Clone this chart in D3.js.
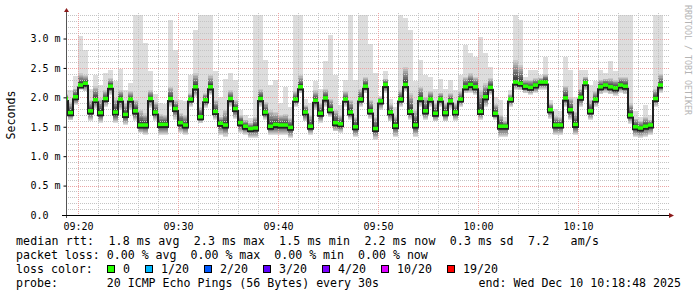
<!DOCTYPE html>
<html>
<head>
<meta charset="utf-8">
<script src="https://cdn.jsdelivr.net/npm/d3@7/dist/d3.min.js"></script>
<style>
  body { margin: 0; background: #fff; }
  svg text { font-family: "DejaVu Sans Mono", monospace; white-space: pre; fill: #000; }
</style>
</head>
<body>
<div id="chart"></div>
<script>
// one value per 30 s step, first step starts 09:18:30 (values in ms)
const stepStart = Date.UTC(2025, 11, 10, 9, 18, 30);
const stepMs = 30000;

const medianRtt = [
  1.98, 1.74, 2.01, 2.21, 2.24, 1.77, 1.96, 1.74, 1.98, 2.19,
  1.75, 1.97, 1.71, 1.97, 1.77, 1.53, 1.53, 1.98, 1.75, 1.54,
  1.54, 1.98, 1.81, 1.57, 1.53, 1.97, 2.18, 1.67, 1.96, 2.18,
  1.76, 1.56, 1.53, 1.98, 1.81, 1.57, 1.51, 1.47, 1.48, 1.98,
  1.75, 1.51, 1.54, 1.53, 1.53, 1.49, 1.97, 2.18, 1.75, 1.51,
  1.95, 1.73, 1.99, 1.79, 1.57, 1.55, 1.97, 1.75, 1.50, 1.97,
  2.19, 1.77, 1.47, 1.94, 2.22, 1.75, 1.52, 1.97, 2.22, 1.76,
  1.53, 1.98, 1.77, 1.97, 1.73, 1.97, 1.74, 1.94, 1.75, 1.97,
  2.18, 2.22, 2.18, 1.76, 2.01, 2.17, 1.73, 1.51, 1.51, 1.97,
  2.26, 2.24, 2.19, 2.17, 2.21, 2.26, 2.26, 1.79, 1.53, 1.53,
  1.99, 1.79, 1.54, 2.00, 2.25, 1.77, 1.97, 2.18, 2.21, 2.18,
  2.16, 2.21, 2.19, 1.70, 1.50, 1.48, 1.51, 1.53, 1.98, 2.21
];

// slowest ping of each step (above 3.4 is cut off by the graph)
const pingMax = [
  2.12, 2.12, 2.36, 3.04, 2.81, 2.14, 2.38, 2.21, 2.41, 2.47,
  2.28, 2.48, 2.13, 2.24, 3.6, 3.6, 2.92, 2.45, 2.05, 1.90,
  1.88, 3.31, 2.81, 1.96, 1.93, 2.38, 3.15, 3.6, 3.6, 3.6,
  2.44, 2.01, 2.32, 2.41, 2.30, 1.79, 1.70, 1.65, 3.6, 3.6,
  2.64, 2.21, 2.30, 1.90, 2.18, 1.84, 3.6, 3.6, 1.98, 1.90,
  2.27, 2.15, 2.61, 3.06, 2.38, 1.87, 2.30, 3.6, 2.30, 3.6,
  3.6, 2.90, 2.41, 2.03, 2.44, 1.98, 1.84, 3.6, 3.35, 3.15,
  2.27, 2.64, 2.38, 2.35, 2.15, 2.32, 2.15, 2.30, 2.13, 2.38,
  2.89, 2.75, 2.69, 3.03, 2.75, 2.52, 2.01, 1.96, 1.67, 2.13,
  3.6, 3.31, 2.35, 2.47, 2.47, 2.38, 2.69, 1.96, 1.81, 1.76,
  2.69, 2.47, 2.01, 2.47, 2.47, 2.21, 2.27, 2.47, 2.41, 2.61,
  2.44, 3.6, 3.6, 3.6, 1.76, 1.67, 1.87, 1.70, 3.6, 3.6
];

// second slowest ping (top of the darker smoke)
const pingUpper = [
  2.05, 1.92, 2.15, 2.41, 2.38, 1.96, 2.19, 1.99, 2.13, 2.33,
  1.99, 2.12, 1.90, 2.10, 1.96, 1.79, 1.73, 2.12, 1.92, 1.72,
  1.70, 2.18, 1.96, 1.73, 1.70, 2.07, 2.41, 1.84, 2.07, 2.38,
  1.96, 1.67, 1.79, 2.13, 1.96, 1.70, 1.62, 1.57, 1.67, 2.15,
  1.92, 1.79, 1.75, 1.70, 1.72, 1.65, 2.10, 2.38, 1.87, 1.70,
  2.12, 1.90, 2.15, 1.98, 1.79, 1.70, 2.10, 1.96, 1.67, 2.15,
  2.35, 1.96, 1.67, 2.00, 2.32, 1.88, 1.68, 2.12, 2.52, 2.07,
  1.79, 2.18, 2.01, 2.10, 1.90, 2.08, 1.90, 2.07, 1.90, 2.10,
  2.35, 2.41, 2.35, 2.13, 2.24, 2.33, 1.88, 1.70, 1.60, 2.05,
  2.64, 2.55, 2.30, 2.30, 2.33, 2.33, 2.40, 1.90, 1.68, 1.66,
  2.20, 2.00, 1.75, 2.15, 2.35, 1.95, 2.10, 2.30, 2.32, 2.33,
  2.30, 2.35, 2.35, 1.90, 1.64, 1.60, 1.66, 1.62, 2.15, 2.40
];

// fastest ping of each step
const pingMin = [
  1.85, 1.61, 1.87, 2.13, 2.10, 1.59, 1.81, 1.56, 1.84, 2.04,
  1.56, 1.79, 1.53, 1.79, 1.59, 1.39, 1.36, 1.82, 1.60, 1.36,
  1.36, 1.84, 1.62, 1.39, 1.36, 1.84, 2.01, 1.56, 1.82, 2.04,
  1.62, 1.36, 1.33, 1.84, 1.64, 1.39, 1.36, 1.31, 1.31, 1.84,
  1.62, 1.36, 1.36, 1.36, 1.36, 1.31, 1.84, 2.07, 1.59, 1.36,
  1.79, 1.56, 1.84, 1.67, 1.42, 1.39, 1.84, 1.62, 1.33, 1.84,
  2.07, 1.64, 1.28, 1.79, 2.07, 1.59, 1.33, 1.84, 2.10, 1.62,
  1.33, 1.84, 1.62, 1.84, 1.59, 1.84, 1.59, 1.81, 1.60, 1.84,
  2.07, 2.07, 2.04, 1.62, 1.84, 2.04, 1.62, 1.33, 1.33, 1.84,
  2.13, 2.12, 2.07, 2.04, 2.07, 2.13, 2.13, 1.64, 1.36, 1.36,
  1.84, 1.62, 1.36, 1.84, 2.12, 1.62, 1.84, 2.05, 2.08, 2.05,
  2.03, 2.08, 2.05, 1.55, 1.33, 1.31, 1.33, 1.36, 1.84, 2.08
];

const yTicks = [0, 0.5, 1.0, 1.5, 2.0, 2.5, 3.0];
const lossLabels = ["0", "1/20", "2/20", "3/20", "4/20", "10/20", "19/20"];
const lossColors = ["#26ff00", "#00b8ff", "#0059ff", "#5e00ff", "#7e00ff", "#dd00ff", "#ff0000"];
const rttStats = ["1.8 ms avg", "2.3 ms max", "1.5 ms min", "2.2 ms now", "0.3 ms sd", "7.2   am/s"];
const lossStats = ["0.00 % avg", "0.00 % max", "0.00 % min", "0.00 % now"];
const probeText = "20 ICMP Echo Pings (56 Bytes) every 30s";
const endText = "end: Wed Dec 10 10:18:48 2025";

const width = 697;
const height = 297;
const plot = { left: 66, right: 666, top: 15, bottom: 215 };

const svg = d3.select("#chart")
  .append("svg")
  .attr("width", width)
  .attr("height", height);

const x = d3.scaleUtc()
  .domain([new Date(Date.UTC(2025, 11, 10, 9, 18, 48)), new Date(Date.UTC(2025, 11, 10, 10, 18, 48))])
  .range([plot.left, plot.right]);

const y = d3.scaleLinear()
  .domain([0, 3.4])
  .range([plot.bottom, plot.top]);

svg.append("clipPath").attr("id", "plotclip")
  .append("rect")
  .attr("x", plot.left).attr("y", plot.top)
  .attr("width", plot.right - plot.left).attr("height", plot.bottom - plot.top);

const steps = medianRtt.map((m, i) => ({
  t0: new Date(stepStart + i * stepMs),
  t1: new Date(stepStart + (i + 1) * stepMs),
  med: m, max: pingMax[i], up: pingUpper[i], min: pingMin[i]
}));

// smoke: 10 nested bands, light outside, dark near the median
const bands = [];
steps.forEach(d => {
  for (let k = 1; k <= 10; k++) {
    const g = Math.floor(190 / 10 * (10 - k)) + 50;
    const hi = k === 1 ? d.max : d.med + (d.up - d.med) * (11 - k) / 9;
    const lo = k === 1 ? d.min : d.min + (d.med - d.min) * (k - 1) / 10;
    bands.push({ d, hi, lo, color: d3.rgb(g, g, g) });
  }
});

const smoke = svg.append("g").attr("clip-path", "url(#plotclip)");
smoke.selectAll("rect")
  .data(bands)
  .join("rect")
  .attr("x", b => x(b.d.t0))
  .attr("width", b => x(b.d.t1) - x(b.d.t0))
  .attr("y", b => y(b.hi))
  .attr("height", b => y(b.lo) - y(b.hi))
  .attr("fill", b => b.color)
  .attr("shape-rendering", "crispEdges");

// grid
const grid = svg.append("g").attr("shape-rendering", "crispEdges");
const minorY = y.ticks(34).filter(v => v > 0 && !yTicks.some(t => Math.abs(t - v) < 1e-6));
grid.selectAll(".hminor")
  .data(minorY)
  .join("line")
  .attr("x1", plot.left).attr("x2", plot.right + 3)
  .attr("y1", v => Math.round(y(v)) + 0.5).attr("y2", v => Math.round(y(v)) + 0.5)
  .attr("stroke", "#c4c4c4").attr("stroke-dasharray", "1,1");

const minorX = x.ticks(d3.utcMinute.every(2)).filter(t => t.getUTCMinutes() % 10 !== 0);
grid.selectAll(".vminor")
  .data(minorX)
  .join("line")
  .attr("x1", t => Math.round(x(t)) + 0.5).attr("x2", t => Math.round(x(t)) + 0.5)
  .attr("y1", plot.top - 2).attr("y2", plot.bottom)
  .attr("stroke", "#c4c4c4").attr("stroke-dasharray", "1,1");

grid.selectAll(".hmajor")
  .data(yTicks.filter(v => v > 0))
  .join("line")
  .attr("x1", plot.left).attr("x2", plot.right + 3)
  .attr("y1", v => Math.round(y(v)) + 0.5).attr("y2", v => Math.round(y(v)) + 0.5)
  .attr("stroke", "#eaa4a4").attr("stroke-dasharray", "1,1");

const majorX = x.ticks(d3.utcMinute.every(10));
grid.selectAll(".vmajor")
  .data(majorX)
  .join("line")
  .attr("x1", t => Math.round(x(t)) + 0.5).attr("x2", t => Math.round(x(t)) + 0.5)
  .attr("y1", plot.top - 2).attr("y2", plot.bottom)
  .attr("stroke", "#eaa4a4").attr("stroke-dasharray", "1,1");

// median line and loss colour marks
const medPts = steps.map(d => [x(d.t0), y(d.med)]);
medPts.push([x(steps[steps.length - 1].t1), y(steps[steps.length - 1].med)]);
svg.append("path")
  .attr("clip-path", "url(#plotclip)")
  .attr("d", d3.line().curve(d3.curveStepAfter)(medPts))
  .attr("transform", "translate(0,2.5)")
  .attr("fill", "none")
  .attr("stroke", "#202020")
  .attr("stroke-width", 2);

svg.append("g").attr("clip-path", "url(#plotclip)")
  .selectAll("rect")
  .data(steps)
  .join("rect")
  .attr("x", d => x(d.t0))
  .attr("width", d => x(d.t1) - x(d.t0))
  .attr("y", d => y(d.med) - 1.75)
  .attr("height", 3.5)
  .attr("fill", lossColors[0]);

// axes
const yAxis = svg.append("g").attr("transform", `translate(${plot.left + 0.5},0)`)
  .call(d3.axisLeft(y).tickValues(yTicks).tickSize(3).tickPadding(3)
    .tickFormat(v => v === 0 ? "0.0  " : d3.format(".1f")(v) + " m"));
yAxis.select(".domain").attr("stroke", "#555").attr("d", `M0,${plot.bottom + 3}V${plot.top - 4}`);
yAxis.selectAll("text").attr("font-size", "10px").attr("dy", "0.34em")
  .style("font-family", '"DejaVu Sans Mono", monospace');

const xAxis = svg.append("g").attr("transform", `translate(0,${plot.bottom + 0.5})`)
  .call(d3.axisBottom(x).ticks(d3.utcMinute.every(10)).tickSize(0).tickPadding(7)
    .tickFormat(d3.utcFormat("%H:%M")));
xAxis.select(".domain").attr("stroke", "#000").attr("d", `M${plot.left - 4},0H${plot.right + 4}`);
xAxis.selectAll("text").attr("font-size", "10px")
  .style("font-family", '"DejaVu Sans Mono", monospace');

svg.append("path")
  .attr("d", `M${plot.right + 3},${plot.bottom - 2}L${plot.right + 8},${plot.bottom + 0.5}L${plot.right + 3},${plot.bottom + 3}Z`)
  .attr("fill", "#8b1a1a");
svg.append("path")
  .attr("d", `M${plot.left - 2},${plot.top - 3}L${plot.left + 0.5},${plot.top - 7}L${plot.left + 3},${plot.top - 3}Z`)
  .attr("fill", "#8b1a1a");

svg.append("text")
  .attr("transform", `translate(15,${(plot.top + plot.bottom) / 2}) rotate(-90)`)
  .attr("text-anchor", "middle")
  .attr("font-size", "11.6px")
  .text("Seconds");

svg.append("text")
  .attr("transform", "translate(685,5) rotate(90)")
  .attr("font-size", "8.3px")
  .style("fill", "#b4b4b4")
  .text("RRDTOOL / TOBI OETIKER");

// legend
const legend = svg.append("g").attr("font-size", "11.6px");
legend.append("text").attr("x", 16).attr("y", 245)
  .attr("letter-spacing", "0.13px")
  .text("median rtt:  " + rttStats.join("  "));
legend.append("text").attr("x", 16).attr("y", 259)
  .text("packet loss: " + lossStats.join("  "));
legend.append("text").attr("x", 16).attr("y", 273)
  .text("loss color:");
legend.append("text").attr("x", 16).attr("y", 287)
  .text("probe:       " + probeText);
legend.append("text").attr("x", 681).attr("y", 287)
  .attr("text-anchor", "end")
  .text(endText);

let lx = 107.5;
lossLabels.forEach((lab, i) => {
  legend.append("rect")
    .attr("x", lx).attr("y", 265.5)
    .attr("width", 7).attr("height", 7)
    .attr("fill", lossColors[i])
    .attr("stroke", "#000").attr("stroke-width", 1)
    .attr("shape-rendering", "crispEdges");
  const t = legend.append("text").attr("x", lx + 15.5).attr("y", 273).text(lab);
  lx = lx + 15.5 + t.node().getComputedTextLength() + 15;
  lx = Math.round(lx) + 0.5;
});
</script>
</body>
</html>
